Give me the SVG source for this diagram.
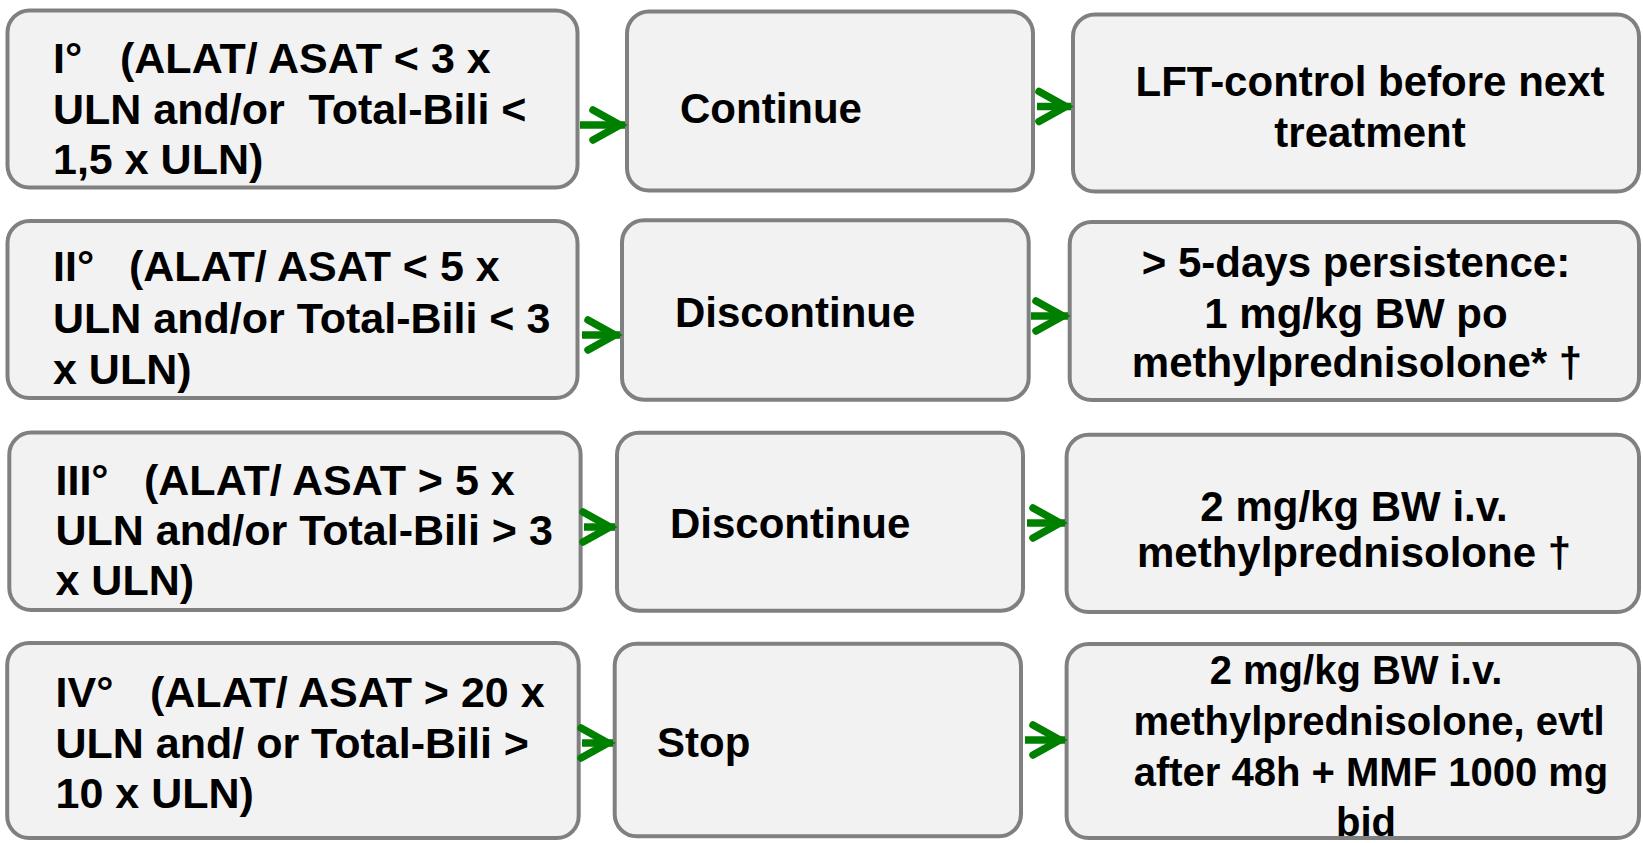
<svg xmlns="http://www.w3.org/2000/svg" width="1643" height="843" viewBox="0 0 1643 843">
  <style>
    .box { fill: #f2f2f2; stroke: #808080; stroke-width: 4; }
    .t { font-family: "Liberation Sans", Arial, sans-serif; font-weight: bold; font-size: 42px; fill: #000; }
    .g { font-size: 43px; }
    .s { font-size: 40px; }
    .c { text-anchor: middle; }
    .shaft { stroke: #008000; stroke-width: 7.5; fill: none; marker-end: url(#chev); }
  </style>
  <defs>
    <marker id="chev" markerUnits="userSpaceOnUse" viewBox="-40 -20 50 40" refX="0" refY="0" markerWidth="50" markerHeight="40" orient="auto" overflow="visible">
      <polyline points="-32,-15 -5,0 -32,15" fill="none" stroke="#008000" stroke-width="7.5" stroke-linejoin="miter" stroke-linecap="round"/>
    </marker>
  </defs>
  <rect width="1643" height="843" fill="#ffffff"/>

  <!-- Grade I -->
  <g id="grade1">
    <rect class="box" x="7.5" y="10.5" width="570" height="177" rx="22"/>
    <text class="t g" xml:space="preserve"><tspan x="53" y="73">I°</tspan><tspan x="120" y="73">(ALAT/ ASAT &lt; 3 x</tspan><tspan x="53" y="124">ULN and/or  Total-Bili &lt;</tspan><tspan x="53" y="174">1,5 x ULN)</tspan></text>
  </g>
  <g id="action1">
    <rect class="box" x="627" y="11.5" width="406" height="179" rx="22"/>
    <text class="t" x="680" y="122.5">Continue</text>
  </g>
  <g id="therapy1">
    <rect class="box" x="1073" y="14.5" width="566" height="177" rx="22"/>
    <text class="t c"><tspan x="1370" y="96">LFT-control before next</tspan><tspan x="1370" y="146.5">treatment</tspan></text>
  </g>

  <!-- Grade II -->
  <g id="grade2">
    <rect class="box" x="7.5" y="221" width="570" height="177" rx="22"/>
    <text class="t g" xml:space="preserve"><tspan x="53" y="281">II°</tspan><tspan x="129" y="281">(ALAT/ ASAT &lt; 5 x</tspan><tspan x="53" y="333">ULN and/or Total-Bili &lt; 3</tspan><tspan x="53" y="383.5">x ULN)</tspan></text>
  </g>
  <g id="action2">
    <rect class="box" x="622" y="220.3" width="406.7" height="179.4" rx="22"/>
    <text class="t" x="675" y="326.7">Discontinue</text>
  </g>
  <g id="therapy2">
    <rect class="box" x="1069.7" y="222" width="569.3" height="178" rx="22"/>
    <text class="t c"><tspan x="1356" y="277">&gt; 5-days persistence:</tspan><tspan x="1356" y="328">1 mg/kg BW po</tspan><tspan x="1357" y="377">methylprednisolone* †</tspan></text>
  </g>

  <!-- Grade III -->
  <g id="grade3">
    <rect class="box" x="9.3" y="432.6" width="571.3" height="177.4" rx="22"/>
    <text class="t g" xml:space="preserve"><tspan x="55.5" y="494.5">III°</tspan><tspan x="144" y="494.5">(ALAT/ ASAT &gt; 5 x</tspan><tspan x="55.5" y="545">ULN and/or Total-Bili &gt; 3</tspan><tspan x="55.5" y="595">x ULN)</tspan></text>
  </g>
  <g id="action3">
    <rect class="box" x="617" y="432.7" width="406" height="178" rx="22"/>
    <text class="t" x="670" y="538">Discontinue</text>
  </g>
  <g id="therapy3">
    <rect class="box" x="1066.6" y="434.7" width="572.4" height="177.3" rx="22"/>
    <text class="t c"><tspan x="1354" y="521">2 mg/kg BW i.v.</tspan><tspan x="1354" y="567">methylprednisolone †</tspan></text>
  </g>

  <!-- Grade IV -->
  <g id="grade4">
    <rect class="box" x="7.2" y="643" width="571.5" height="195" rx="22"/>
    <text class="t g" xml:space="preserve"><tspan x="55.5" y="707">IV°</tspan><tspan x="150" y="707">(ALAT/ ASAT &gt; 20 x</tspan><tspan x="55.5" y="757.5">ULN and/ or Total-Bili &gt;</tspan><tspan x="55.5" y="808">10 x ULN)</tspan></text>
  </g>
  <g id="action4">
    <rect class="box" x="614.7" y="643.7" width="406.3" height="192.6" rx="22"/>
    <text class="t" x="657" y="757">Stop</text>
  </g>
  <g id="therapy4">
    <rect class="box" x="1066.6" y="644" width="572.4" height="194" rx="22"/>
    <text class="t s c"><tspan x="1356" y="684">2 mg/kg BW i.v.</tspan><tspan x="1369" y="735">methylprednisolone, evtl</tspan><tspan x="1371" y="785.5">after 48h + MMF 1000 mg</tspan><tspan x="1366" y="836">bid</tspan></text>
  </g>

  <!-- Connectors -->
  <g id="connectors">
    <path class="shaft" d="M580,125 H625"/>
    <path class="shaft" d="M1037,106.5 H1071"/>
    <path class="shaft" d="M582,335 H620"/>
    <path class="shaft" d="M1031,316 H1068"/>
    <path class="shaft" d="M584,527 H615"/>
    <path class="shaft" d="M1027,523 H1065"/>
    <path class="shaft" d="M582,743 H613"/>
    <path class="shaft" d="M1025,740 H1065"/>
  </g>
</svg>
